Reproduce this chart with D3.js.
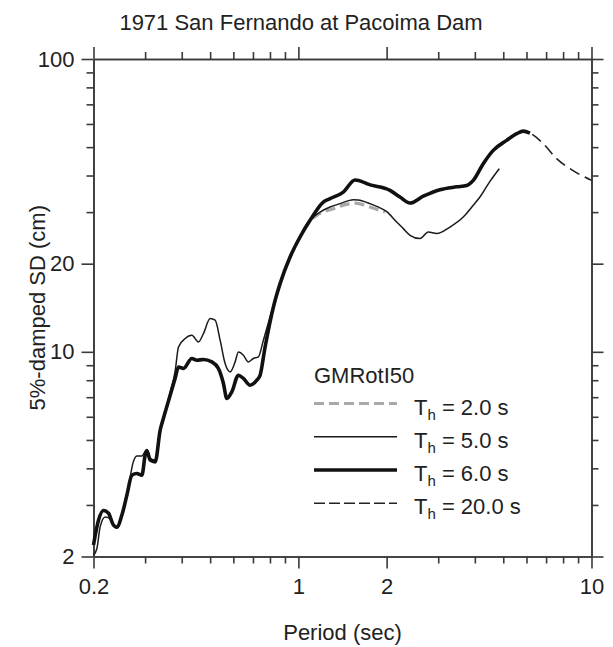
<!DOCTYPE html>
<html>
<head>
<meta charset="utf-8">
<script src="https://cdn.jsdelivr.net/npm/d3@7"></script>
<style>
  html, body { margin: 0; padding: 0; background: #fff; }
  svg { display: block; font-family: "Liberation Sans", Arial, Helvetica, sans-serif; }
</style>
</head>
<body>
<svg id="chart" width="613" height="647"></svg>
<script>
// ---- Data (period in sec, 5%-damped SD in cm) ----
const chartTitle = "1971 San Fernando at Pacoima Dam";
const xLabel = "Period (sec)";
const yLabel = "5%-damped SD (cm)";
const legendTitle = "GMRotI50";

const xMajorTicks = [0.2, 1, 2, 10];
const xMinorTicks = [0.3, 0.4, 0.5, 0.6, 0.7, 0.8, 0.9, 3, 4, 5, 6, 7, 8, 9];
const yMajorTicks = [2, 10, 20, 100];
const yMinorTicks = [3, 4, 5, 6, 7, 8, 9, 30, 40, 50, 60, 70, 80, 90];

// Th = 5.0 s (thin solid)
const th5Period = [0.2000, 0.2054, 0.2108, 0.2192, 0.2268, 0.2353, 0.2415, 0.2531, 0.2633, 0.2725,
  0.2812, 0.2925, 0.3042, 0.3122, 0.3247, 0.3377, 0.3466, 0.3653, 0.3799, 0.3899,
  0.4109, 0.4331, 0.4561, 0.4744, 0.5000, 0.5200, 0.5408, 0.5624, 0.5850, 0.6084,
  0.6243, 0.6493, 0.6753, 0.7024, 0.7305, 0.7597, 0.8007, 0.8547, 0.9368, 1.0133,
  1.0960, 1.1248, 1.1855, 1.2824, 1.3871, 1.5398, 1.6000, 1.7555, 1.8500, 2.0016,
  2.1650, 2.2800, 2.4030, 2.5992, 2.7742, 2.9636, 3.2896, 3.6518, 3.9500, 4.1634,
  4.5034, 4.8446];
const th5SD = [2.02, 2.13, 2.53, 2.73, 2.70, 2.53, 2.50, 2.88, 3.46, 4.16,
  4.41, 4.41, 4.64, 4.33, 4.27, 5.33, 5.94, 7.28, 8.60, 10.39,
  11.10, 11.39, 10.81, 11.55, 12.99, 12.82, 10.96, 9.12, 8.54, 9.24,
  9.99, 9.74, 9.24, 9.49, 9.61, 10.96, 13.16, 16.23, 21.08, 24.67,
  28.12, 28.86, 30.02, 31.22, 32.07, 33.09, 33.00, 32.07, 31.40, 30.10,
  27.75, 26.35, 25.00, 24.36, 25.66, 25.34, 26.68, 28.86, 31.64, 33.77,
  38.20, 42.22];

// Th = 2.0 s (gray dashed) - visible part, hidden under the others at shorter periods
const th2Period = [0.9368, 1.0133, 1.0960, 1.1552, 1.3160, 1.5605, 1.7555, 1.8988, 1.9750];
const th2SD = [21.08, 24.67, 28.00, 29.25, 30.83, 32.22, 31.22, 30.42, 30.02];

// Th = 6.0 s (thick solid)
const th6Period = [0.2000, 0.2080, 0.2163, 0.2250, 0.2340, 0.2403, 0.2500, 0.2600, 0.2704, 0.2812,
  0.2925, 0.3002, 0.3042, 0.3122, 0.3247, 0.3377, 0.3466, 0.3653, 0.3799, 0.3899,
  0.4055, 0.4331, 0.4504, 0.4744, 0.5067, 0.5336, 0.5550, 0.5700, 0.5928, 0.6243,
  0.6493, 0.6844, 0.7214, 0.7403, 0.7699, 0.8218, 0.8661, 0.9368, 1.0133, 1.0960,
  1.2166, 1.2824, 1.4234, 1.5605, 1.6654, 1.7106, 2.0540, 2.2218, 2.4030, 2.6674,
  3.0414, 3.4674, 3.7506, 3.9500, 4.2728, 4.6216, 5.1342, 5.5536, 5.8490, 6.1650];
const th6SD = [2.19, 2.66, 2.87, 2.81, 2.56, 2.52, 2.77, 3.24, 3.79, 3.84,
  3.79, 4.44, 4.59, 4.27, 4.21, 5.40, 5.94, 7.11, 8.13, 8.88,
  8.77, 9.49, 9.36, 9.41, 9.24, 8.77, 7.80, 6.93, 7.30, 8.32,
  8.11, 7.69, 8.00, 8.32, 10.39, 14.23, 17.10, 21.08, 24.67, 28.12,
  32.47, 33.35, 35.12, 38.60, 38.00, 37.53, 35.60, 33.77, 32.22, 34.00,
  35.79, 36.60, 37.00, 38.51, 43.91, 48.75, 52.73, 55.58, 56.73, 55.84];

// Th = 20.0 s (thin dashed)
const th20Period = [5.5536, 5.8490, 6.1650, 6.8438, 7.6024, 8.4396, 10.0];
const th20SD = [55.58, 56.73, 55.84, 51.38, 45.67, 42.22, 38.51];

const legendLabels = ["2.0", "5.0", "6.0", "20.0"];

// ---- Layout ----
const svg = d3.select("#chart");
const L = 93.5, R = 591.5, T = 59, B = 556.5;

const x = d3.scaleLog().domain([0.2, 10]).range([L, R]);
const y = d3.scaleLog().domain([2, 100]).range([B, T]);

const axisColor = "#3a3a3a";
const fontSize = 22;

// title
svg.append("text").attr("x", 301).attr("y", 30)
  .attr("text-anchor", "middle").attr("font-size", 22).attr("fill", "#222")
  .text(chartTitle);

// axes
function styleAxis(g) {
  g.selectAll(".domain").attr("stroke", axisColor).attr("stroke-width", 1.6);
  g.selectAll(".tick line").attr("stroke", axisColor).attr("stroke-width", 1.6);
  g.selectAll("text").attr("font-size", fontSize).attr("fill", "#222")
    .attr("font-family", "'Liberation Sans', Arial, Helvetica, sans-serif");
}
const fmt = d => String(d);

// bottom
svg.append("g").attr("transform", `translate(0,${B})`)
  .call(d3.axisBottom(x).tickValues(xMinorTicks).tickSize(7).tickFormat("").tickSizeOuter(0))
  .call(styleAxis);
svg.append("g").attr("transform", `translate(0,${B})`)
  .call(d3.axisBottom(x).tickValues(xMajorTicks).tickSize(12).tickPadding(10).tickFormat(fmt).tickSizeOuter(0))
  .call(styleAxis);
// top
svg.append("g").attr("transform", `translate(0,${T})`)
  .call(d3.axisTop(x).tickValues(xMinorTicks).tickSize(7).tickFormat("").tickSizeOuter(0))
  .call(styleAxis);
svg.append("g").attr("transform", `translate(0,${T})`)
  .call(d3.axisTop(x).tickValues(xMajorTicks).tickSize(12).tickFormat("").tickSizeOuter(0))
  .call(styleAxis);
// left
svg.append("g").attr("transform", `translate(${L},0)`)
  .call(d3.axisLeft(y).tickValues(yMinorTicks).tickSize(7).tickFormat("").tickSizeOuter(0))
  .call(styleAxis);
svg.append("g").attr("transform", `translate(${L},0)`)
  .call(d3.axisLeft(y).tickValues(yMajorTicks).tickSize(12).tickPadding(7).tickFormat(fmt).tickSizeOuter(0))
  .call(styleAxis);
// right
svg.append("g").attr("transform", `translate(${R},0)`)
  .call(d3.axisRight(y).tickValues(yMinorTicks).tickSize(7).tickFormat("").tickSizeOuter(0))
  .call(styleAxis);
svg.append("g").attr("transform", `translate(${R},0)`)
  .call(d3.axisRight(y).tickValues(yMajorTicks).tickSize(12).tickFormat("").tickSizeOuter(0))
  .call(styleAxis);

// axis titles
svg.append("text").attr("x", (L + R) / 2).attr("y", 640)
  .attr("text-anchor", "middle").attr("font-size", fontSize).attr("fill", "#222")
  .text(xLabel);
svg.append("text")
  .attr("transform", `translate(45,${(T + B) / 2}) rotate(-90)`)
  .attr("text-anchor", "middle").attr("font-size", fontSize).attr("fill", "#222")
  .text(yLabel);

// lines
const line = d3.line().x(d => x(d[0])).y(d => y(d[1])).curve(d3.curveMonotoneX);
const zip = (a, b) => a.map((v, i) => [v, b[i]]);

const series = [
  { p: th2Period, v: th2SD, stroke: "#a8a8a8", width: 3.2, dash: "10,5" },
  { p: th20Period, v: th20SD, stroke: "#222", width: 1.6, dash: "11,6" },
  { p: th5Period, v: th5SD, stroke: "#1a1a1a", width: 1.5, dash: null },
  { p: th6Period, v: th6SD, stroke: "#111", width: 3.6, dash: null }
];
const plot = svg.append("g");
series.forEach(s => {
  plot.append("path").datum(zip(s.p, s.v))
    .attr("d", line).attr("fill", "none")
    .attr("stroke", s.stroke).attr("stroke-width", s.width)
    .attr("stroke-dasharray", s.dash)
    .attr("stroke-linejoin", "round").attr("stroke-linecap", "butt");
});

// legend
const leg = svg.append("g");
leg.append("text").attr("x", 314).attr("y", 383).attr("font-size", fontSize).attr("fill", "#222")
  .text(legendTitle);
const legStyles = [
  { stroke: "#a8a8a8", width: 3.2, dash: "10,5" },
  { stroke: "#1a1a1a", width: 1.6, dash: null },
  { stroke: "#111", width: 3.6, dash: null },
  { stroke: "#222", width: 1.6, dash: "11,4" }
];
const rowY = [403.5, 436.8, 470, 503.3];
legendLabels.forEach((lab, i) => {
  const yy = rowY[i];
  leg.append("line").attr("x1", 314).attr("x2", 397).attr("y1", yy).attr("y2", yy)
    .attr("stroke", legStyles[i].stroke).attr("stroke-width", legStyles[i].width)
    .attr("stroke-dasharray", legStyles[i].dash);
  const t = leg.append("text").attr("x", 414).attr("y", yy + 11)
    .attr("font-size", fontSize).attr("fill", "#222");
  t.append("tspan").text("T");
  t.append("tspan").attr("font-size", 15).attr("dy", 5).text("h");
  t.append("tspan").attr("dy", -5).text(" = " + lab + " s");
});
</script>
</body>
</html>
